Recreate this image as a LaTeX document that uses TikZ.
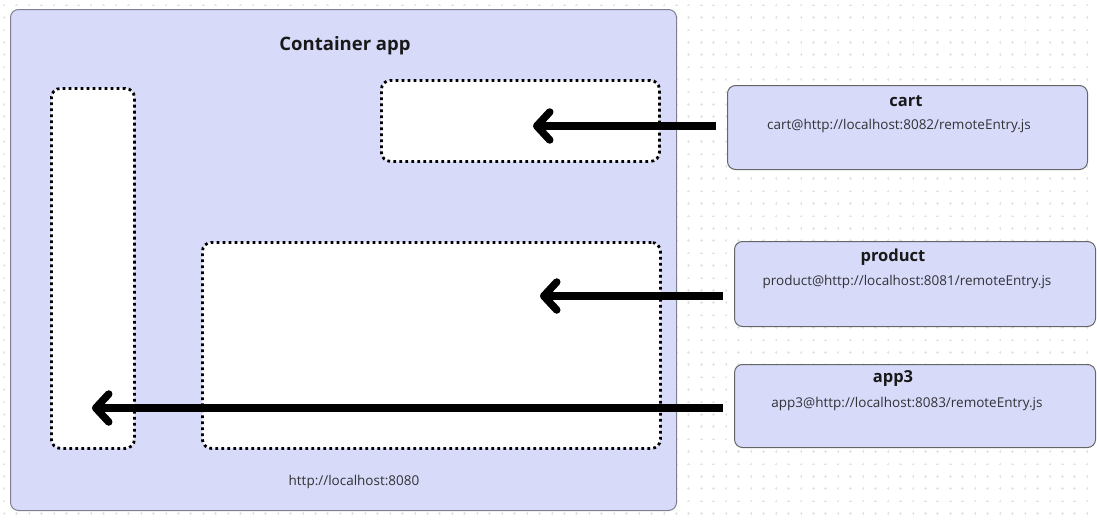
\documentclass[tikz,border=0pt]{standalone}
\usepackage{fontspec}
\setmainfont{Open Sans}
\usetikzlibrary{arrows.meta,calc}
\definecolor{panel}{RGB}{215,218,249}
\definecolor{panelline}{RGB}{128,128,140}
\definecolor{gridmark}{RGB}{226,226,231}
\definecolor{inktext}{RGB}{50,50,55}
\tikzset{
  panelbox/.style={draw=panelline, fill=panel, line width=1pt, rounded corners=8pt, inner sep=0pt},
  slotbox/.style={draw=black, fill=white, line width=2.8pt, dash pattern=on 2.8pt off 3.2pt, rounded corners=9pt, inner sep=0pt},
  remotebox/.style={draw=black!60, fill=panel, line width=1pt, rounded corners=8pt, inner sep=0pt},
  headtext/.style={font=\fontsize{18.5}{22}\selectfont\bfseries, text=black!90, inner sep=0pt},
  titletext/.style={font=\fontsize{16.5}{19}\selectfont\bfseries, text=black!90, inner sep=0pt},
  urltext/.style={font=\fontsize{13.5}{16}\selectfont, text=inktext, inner sep=0pt},
  loadarrow/.style={line width=7.5pt, -{Straight Barb[length=13pt,width=28pt,line cap=round,line join=round]}}
}
\begin{document}
\begin{tikzpicture}[x=1pt,y=-1pt]
\useasboundingbox (0,0) rectangle (1097,522);
% dotted canvas
\draw[gridmark, line width=0.6pt]
  \foreach \i in {0,...,87} { \foreach \j in {0,...,41} {
    ({4+12.45*\i-1.3},{5+12.4*\j}) -- ++(2.6,0)
    ({4+12.45*\i},{5+12.4*\j-1.3}) -- ++(0,2.6) } };

% host application
\node[panelbox, anchor=north west, minimum width=666pt, minimum height=501pt] (container) at (10,9) {};
\node[headtext] (containertitle) at (345,46) {Container app};
\node[urltext] (hostlabel) at (354,482) {http://localhost:8080};

% mount points inside the host
\node[slotbox, anchor=north west, minimum width=83pt, minimum height=360pt] (sidebar) at (50,87) {};
\node[slotbox, anchor=north west, minimum width=278pt, minimum height=81pt] (cartslot) at (380,79) {};
\node[slotbox, anchor=north west, minimum width=458pt, minimum height=206pt] (productslot) at (201,241) {};

% remote modules
\node[remotebox, anchor=north west, minimum width=360pt, minimum height=84pt] (cart) at (727,85) {};
\node[titletext] (carttitle) at (906,101) {cart};
\node[urltext] (carturl) at (899,126) {cart@http://localhost:8082/remoteEntry.js};

\node[remotebox, anchor=north west, minimum width=361pt, minimum height=85pt] (product) at (734,241) {};
\node[titletext] (producttitle) at (893,257) {product};
\node[urltext] (producturl) at (907,282) {product@http://localhost:8081/remoteEntry.js};

\node[remotebox, anchor=north west, minimum width=361pt, minimum height=83pt] (app3) at (734,364) {};
\node[titletext] (apptitle) at (893,379) {app3};
\node[urltext] (appurl) at (907,404) {app3@http://localhost:8083/remoteEntry.js};

% where each remote is loaded
\coordinate (cartdrop) at (533,126);
\coordinate (productdrop) at (540,296);
\coordinate (appdrop) at (92,408);

\draw[loadarrow] ($(cartdrop -| cart.west)+(-11,0)$) -- (cartdrop);
\draw[loadarrow] ($(productdrop -| product.west)+(-11,0)$) -- (productdrop);
\draw[loadarrow] ($(appdrop -| app3.west)+(-11,0)$) -- (appdrop);
\end{tikzpicture}
\end{document}
